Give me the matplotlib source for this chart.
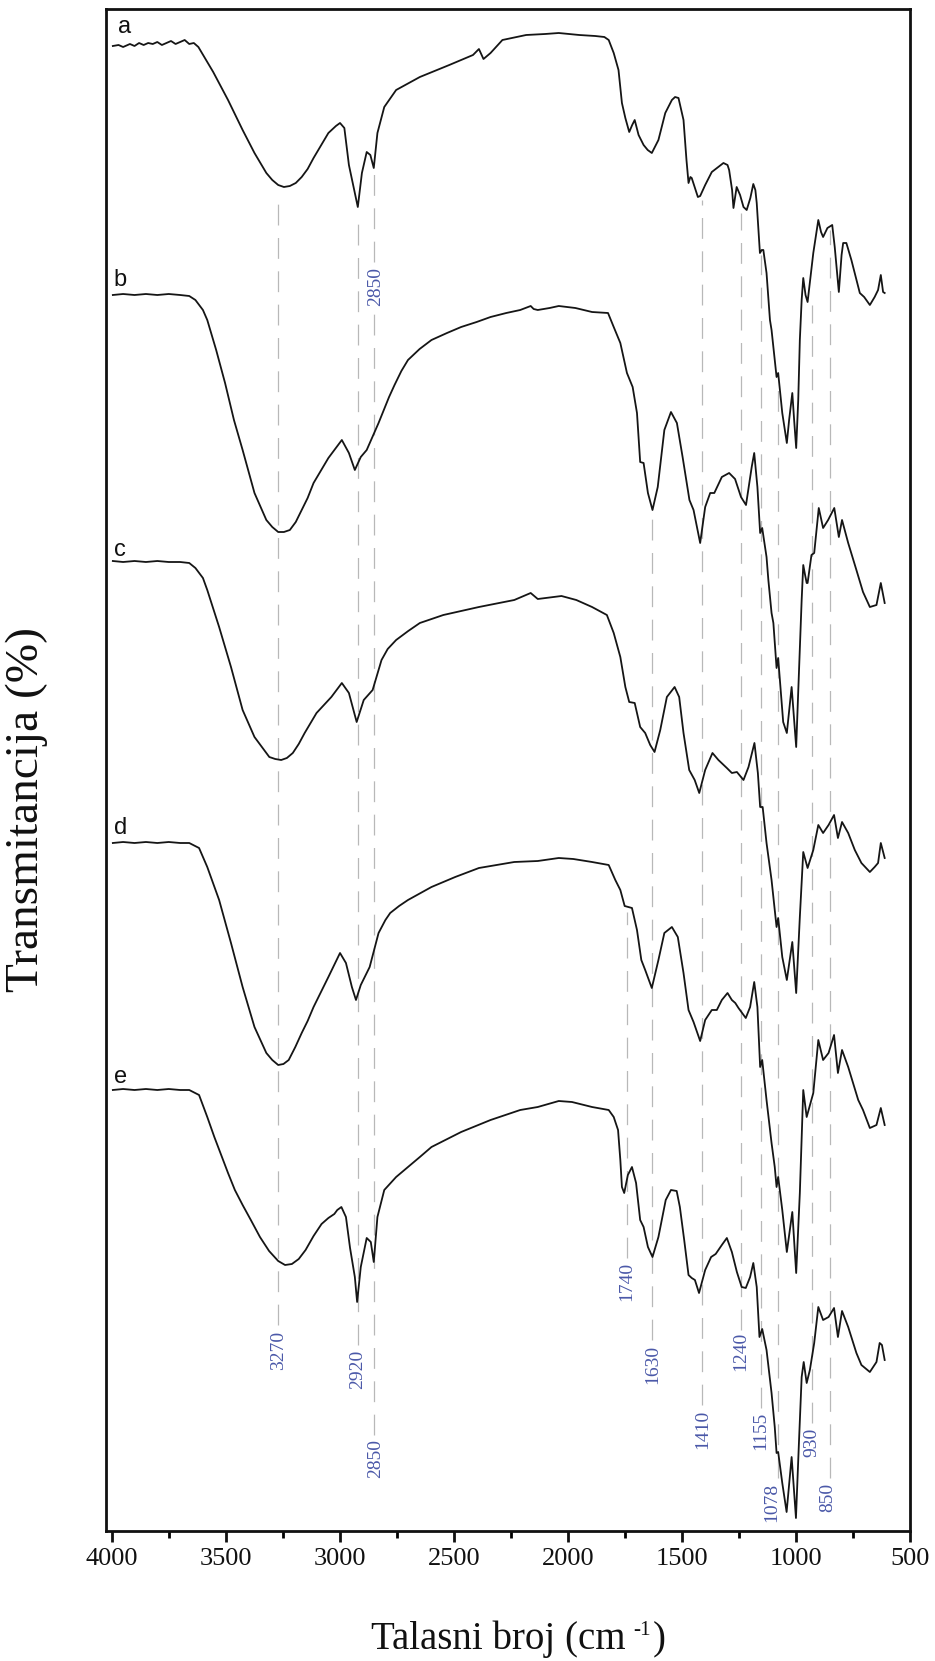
import matplotlib
matplotlib.use('Agg')
import matplotlib.pyplot as plt
from matplotlib.ticker import MultipleLocator

plt.rcParams['font.family'] = ['Liberation Serif', 'DejaVu Serif']
plt.rcParams['lines.scale_dashes'] = False

# ---------------- data (wavenumber cm-1, stacked transmittance a.u.) ----------------
wn_a = [3995, 3970, 3950, 3920, 3900, 3880, 3860, 3840, 3820, 3800, 3780, 3760, 3740, 3720,
        3700, 3680, 3660, 3640, 3620, 3594, 3555, 3490, 3426, 3374, 3322, 3296, 3270, 3245,
        3219, 3193, 3167, 3141,
        3115, 3050, 3017, 2999, 2980, 2960, 2934, 2921, 2903, 2882, 2866, 2851, 2835, 2805,
        2753, 2649, 2520, 2416, 2390, 2370, 2339, 2287, 2183, 2100, 2040, 1950, 1880, 1840,
        1821, 1799, 1778, 1763, 1748, 1731, 1718, 1707, 1690, 1668, 1650, 1632, 1603, 1573,
        1544, 1530, 1515, 1493, 1480, 1471, 1463, 1457, 1430, 1420, 1398, 1369, 1318, 1300,
        1293, 1280, 1274, 1260, 1245, 1230, 1216, 1200, 1187, 1178, 1172, 1158, 1150, 1143,
        1129, 1114, 1107, 1085, 1078, 1060, 1040, 1030, 1016, 1008, 999, 990, 983, 975, 968,
        958, 949, 935, 924, 902, 890, 881, 862, 841, 830, 812, 800, 793, 779, 757, 720, 701,
        676, 655, 640, 628, 618, 611]
t_a = [1485, 1486, 1484, 1487, 1485, 1488, 1486, 1488, 1487, 1489, 1486, 1488, 1490, 1487,
       1489, 1491, 1487, 1488, 1484, 1474, 1459, 1431, 1401, 1378, 1358, 1351, 1346, 1344,
       1345, 1348, 1354, 1362,
       1373, 1398, 1405, 1408, 1403, 1366, 1338, 1324, 1358, 1379, 1376, 1363, 1398, 1424,
       1441, 1454, 1466, 1476, 1482, 1472, 1478, 1491, 1496, 1497, 1498, 1496, 1495, 1494,
       1491, 1478, 1461, 1428, 1413, 1399, 1406, 1411, 1396, 1386, 1381, 1378, 1391, 1418,
       1431, 1434, 1433, 1411, 1371, 1348, 1354, 1353, 1334, 1335, 1346, 1359, 1368, 1366,
       1361, 1341, 1323, 1344, 1336, 1324, 1321, 1333, 1347, 1341, 1328, 1278, 1281, 1281,
       1258, 1211, 1201, 1154, 1158, 1118, 1088, 1111, 1138, 1111, 1083, 1131, 1191, 1231, 1253,
       1236, 1229, 1256, 1278, 1311, 1299, 1294, 1303, 1306, 1284, 1239, 1276, 1288, 1288, 1271,
       1238, 1234, 1226, 1234, 1241, 1256, 1239, 1238]

wn_b = [3995, 3950, 3900, 3850, 3800, 3750, 3700, 3660, 3633, 3600, 3581, 3542, 3503, 3464,
        3426, 3374, 3322, 3296, 3270, 3245, 3219, 3193, 3167, 3141, 3115, 3050, 2991, 2960,
        2934, 2908, 2882, 2830,
        2784, 2760, 2730, 2701, 2650, 2598, 2530, 2468, 2400, 2339, 2270, 2209, 2163, 2150,
        2132, 2080, 2040, 1967, 1894,
        1824, 1799, 1770, 1741, 1716, 1697, 1683, 1668, 1649, 1629, 1606, 1577, 1548, 1522,
        1497, 1467, 1449, 1420, 1398, 1376, 1358, 1325, 1293, 1267, 1241, 1219, 1194, 1183,
        1169, 1157, 1148, 1129, 1121, 1107, 1099, 1085, 1078, 1056, 1040, 1019, 999, 987, 975,
        968, 960, 953, 949, 932, 920, 900, 881, 859, 832, 812, 798, 771, 735, 706, 676, 647,
        628, 611]
t_b = [1236, 1237, 1236, 1237, 1236, 1237, 1236, 1235, 1231, 1221, 1211, 1181, 1148, 1111,
       1081, 1038, 1011, 1004, 999, 999, 1001, 1009, 1021, 1033, 1048, 1073, 1091, 1078,
       1061, 1074, 1081, 1108,
       1134, 1146, 1160, 1171, 1182, 1191, 1198, 1204, 1209, 1214, 1218, 1221, 1225, 1222,
       1221, 1223, 1225, 1223, 1219,
       1218, 1204, 1188, 1158, 1144, 1118, 1069, 1068, 1038, 1021, 1044, 1101, 1119, 1108,
       1074, 1031, 1021, 988, 1024, 1038, 1038, 1054, 1058, 1052, 1034, 1026, 1064, 1078,
       1044, 998, 1003, 974, 951, 918, 908, 863, 873, 809, 798, 844, 784, 858, 931,
       966, 956, 948, 948, 976, 978, 1023, 1003, 1011, 1023, 994, 1011, 988, 961, 939, 924, 926,
       948, 928]

wn_c = [3995, 3950, 3900, 3850, 3800, 3750, 3700, 3660, 3633, 3600, 3581, 3529, 3477, 3426,
        3374, 3309, 3283, 3257, 3232, 3206, 3180, 3154, 3102, 3037, 2991, 2960, 2926, 2895,
        2856, 2817, 2790,
        2753, 2700, 2649, 2546, 2390, 2235, 2163, 2132, 2028, 1963, 1894, 1829, 1799, 1770,
        1748, 1731,
        1707, 1683, 1661, 1639, 1620, 1595, 1566, 1532, 1512, 1493, 1468, 1444, 1424, 1398,
        1366, 1340, 1303, 1281, 1259, 1230, 1208, 1182, 1167, 1157, 1146, 1129, 1107, 1093,
        1085, 1078, 1060, 1040, 1016, 999, 983, 968, 949, 924, 902, 881, 857, 833, 816, 798,
        771, 742, 713, 676, 655, 640, 628, 611]
t_c = [970, 969, 970, 969, 970, 969, 969, 968, 963, 953, 941, 904, 864, 821,
       794, 774, 772, 771, 773, 778, 787, 798, 818, 834, 848, 838, 809, 831,
       841, 871, 882,
       891, 900, 908, 916, 924, 931, 938, 932, 935, 931, 924, 916, 898, 874,
       844, 829,
       828, 804, 798, 786, 779, 801, 834, 844, 834, 798, 761, 751, 738, 761,
       778, 771, 763, 758, 759, 751, 764, 788, 758, 724, 724, 688, 651, 621,
       604, 613, 574, 551, 589, 538, 614, 679, 663, 681, 706, 698, 706, 716, 693, 709,
       698, 681, 668, 659, 664, 668, 688, 673]

wn_d = [3995, 3950, 3900, 3850, 3800, 3750, 3700, 3660, 3617, 3581, 3529, 3477, 3426, 3374,
        3322, 3296, 3270, 3247, 3224, 3195, 3167, 3141, 3115, 3050, 2999, 2973, 2947, 2929,
        2908, 2869, 2830, 2800,
        2779, 2740, 2701, 2598, 2494, 2390, 2235, 2132, 2040, 1976, 1894, 1821, 1792, 1770,
        1751, 1719,
        1697, 1678, 1661, 1632, 1603, 1577, 1544, 1518, 1493, 1471, 1449, 1420, 1398, 1369,
        1347, 1325, 1300, 1281, 1266, 1252, 1220, 1201, 1183, 1169, 1157, 1148, 1129, 1107,
        1093, 1085, 1078, 1060, 1040, 1016, 999, 983, 968, 953, 924, 902, 881, 857, 833, 816,
        798, 771, 727, 706, 676, 647, 628, 611]
t_d = [688, 689, 688, 689, 688, 689, 688, 688, 683, 664, 631, 588, 544, 504,
       478, 471, 466, 467, 471, 484, 498, 510, 524, 554, 578, 568, 544, 531,
       546, 564, 598, 611,
       618, 625, 631, 644, 654, 663, 669, 670, 673, 672, 669, 666, 651, 641,
       625, 623,
       601, 571, 561, 543, 571, 598, 604, 594, 558, 521, 509, 490, 511, 521,
       521, 531, 538, 531, 528, 523, 513, 524, 549, 524, 464, 471, 431, 388,
       364, 344, 354, 321, 279, 319, 258, 338, 441, 414, 438, 491, 471, 478, 496, 458,
       481, 464, 431, 421, 403, 406, 423, 406]

wn_e = [3995, 3950, 3900, 3850, 3800, 3750, 3700, 3660, 3617, 3581, 3550, 3520, 3490, 3460,
        3426, 3390, 3350, 3310, 3270, 3240, 3210, 3180, 3150, 3115, 3080, 3050, 3024, 3011,
        2993, 2973, 2955, 2934, 2924, 2908,
        2882, 2864, 2851, 2835, 2805, 2753, 2701, 2649, 2598, 2468, 2339, 2209, 2132, 2040,
        1982, 1894, 1821, 1799, 1780, 1770, 1763, 1753, 1737, 1719, 1701, 1683, 1668, 1649,
        1629, 1603, 1571, 1548, 1523, 1509, 1490, 1471, 1457, 1443, 1425, 1398, 1372, 1352,
        1325, 1303, 1281, 1259, 1238, 1220, 1201, 1187, 1172, 1160, 1148, 1129, 1107, 1093,
        1085, 1078, 1060, 1041, 1019, 1000, 987, 975, 966, 953, 939, 920, 902, 881, 857, 833,
        816, 798, 771, 735, 713, 676, 647, 633, 623, 611]
t_e = [441, 442, 441, 442, 441, 442, 441, 441, 436, 414, 394, 376, 358, 341,
       326, 311, 294, 280, 270, 266, 267, 272, 281, 295, 307, 313, 317, 321,
       324, 314, 283, 254, 229, 264,
       293, 289, 269, 314, 341, 354, 364, 374, 384, 399, 411, 421, 424, 430,
       429, 424, 421, 414, 401, 371, 344, 338, 356, 364, 348, 311, 304, 284,
       274, 294, 331, 341, 340, 324, 291, 256, 253, 251, 238, 261, 274, 277,
       286, 293, 279, 259, 244, 243, 254, 268, 244, 194, 202, 181, 138, 104,
       78, 79, 48, 19, 74, 13, 88, 154, 169, 148, 161, 188, 224, 211, 214, 223,
       194, 220, 204, 178, 166, 159, 169, 188, 186, 171]

series_names = ['a', 'b', 'c', 'd', 'e']
peak_wavenumbers = [3270, 2920, 2850, 1740, 1630, 1410, 1240, 1155, 1078, 930, 850]

x_ticks = [4000, 3500, 3000, 2500, 2000, 1500, 1000, 500]

# ---------------- figure ----------------
W, H = 935, 1661
fig = plt.figure(figsize=(W / 100, H / 100), dpi=100)
ax = fig.add_axes([106 / W, 1 - 1531 / H, (910 - 106) / W, (1531 - 9) / H])

ax.set_xlim(4025, 500)
ax.set_ylim(0, 1522)

# dashed guide lines: (wavenumber -> segments of (top, bottom))
guide_segments = {
    3270: [(1339, 206)],
    2920: [(1319, 186)],
    2850: [(1359, 1269), (1221, 96)],
    1740: [(619, 273)],
    1630: [(1016, 191)],
    1410: [(1331, 126)],
    1240: [(1318, 201)],
    1155: [(1276, 123)],
    1078: [(1151, 53)],
    930: [(1226, 108)],
    850: [(1301, 53)],
}
for wn in peak_wavenumbers:
    for top, bot in guide_segments[wn]:
        ax.plot([wn, wn], [bot, top], color='#b8b8b8', lw=0.9,
                dashes=(15, 9), zorder=1)

spectra = [(wn_a, t_a), (wn_b, t_b), (wn_c, t_c), (wn_d, t_d), (wn_e, t_e)]
for wn, t in spectra:
    ax.plot(wn, t, color='#151515', lw=1.3, zorder=3, solid_joinstyle='round')

# curve letters
letter_pos = {'a': (3945, 1504), 'b': (3962, 1251), 'c': (3962, 981),
              'd': (3962, 703), 'e': (3962, 454)}
for name in series_names:
    x, y = letter_pos[name]
    ax.text(x, y, name, fontsize=17, family=['Liberation Sans', 'DejaVu Sans'],
            ha='center', va='center', color='#111111')

# peak annotations (rotated)
label_pos = [(3270, 181), (2920, 162), (2843, 1245), (2843, 72), (1740, 250),
             (1630, 167), (1410, 102), (1240, 180), (1155, 100), (1108, 29),
             (930, 89), (860, 34)]
label_text = ['3270', '2920', '2850', '2850', '1740', '1630', '1410', '1240',
              '1155', '1078', '930', '850']
for (x, y), s in zip(label_pos, label_text):
    ax.text(x, y, s, rotation=90, fontsize=14, color='#4a58a8',
            ha='center', va='center', zorder=4)

# axes styling
for side in ['left', 'right', 'top', 'bottom']:
    ax.spines[side].set_linewidth(2.0)
    ax.spines[side].set_color('#111111')
ax.set_yticks([])
ax.set_xticks(x_ticks)
ax.set_xticklabels([str(v) for v in x_ticks])
ax.xaxis.set_minor_locator(MultipleLocator(250))
ax.tick_params(axis='x', which='major', direction='out', length=8, width=2.0,
               labelsize=19, pad=4, colors='#111111')
ax.tick_params(axis='x', which='minor', direction='out', length=5, width=2.0)

# x label with superscript built from plain text pieces
renderer = fig.canvas.get_renderer()
fs_x = 28
pt = 100 / 72.0
pieces = [('Talasni broj (cm', fs_x, 0.0, 0.0),
          ('-1', fs_x * 0.55, 0.36 * fs_x * pt, 0.22 * fs_x * pt),
          (')', fs_x, 0.0, 0.03 * fs_x * pt)]
objs = []
widths = []
for s, fs, rise, gap in pieces:
    t = fig.text(0, 0, s, fontsize=fs, ha='left', va='baseline', color='#111111')
    widths.append(t.get_window_extent(renderer).width + gap)
    objs.append((t, rise, gap))
total = sum(widths)
x_px = 518 - total / 2
base_px = 1661 - 1649
for (t, rise, gap), w in zip(objs, widths):
    x_px += gap
    t.set_position((x_px / W, (base_px + rise) / H))
    x_px += w - gap

fig.text(27 / W, 1 - 810 / H, 'Transmitancija (%)', fontsize=34, rotation=90,
         ha='center', va='center', color='#111111')

fig.savefig('out.png', dpi=100)
